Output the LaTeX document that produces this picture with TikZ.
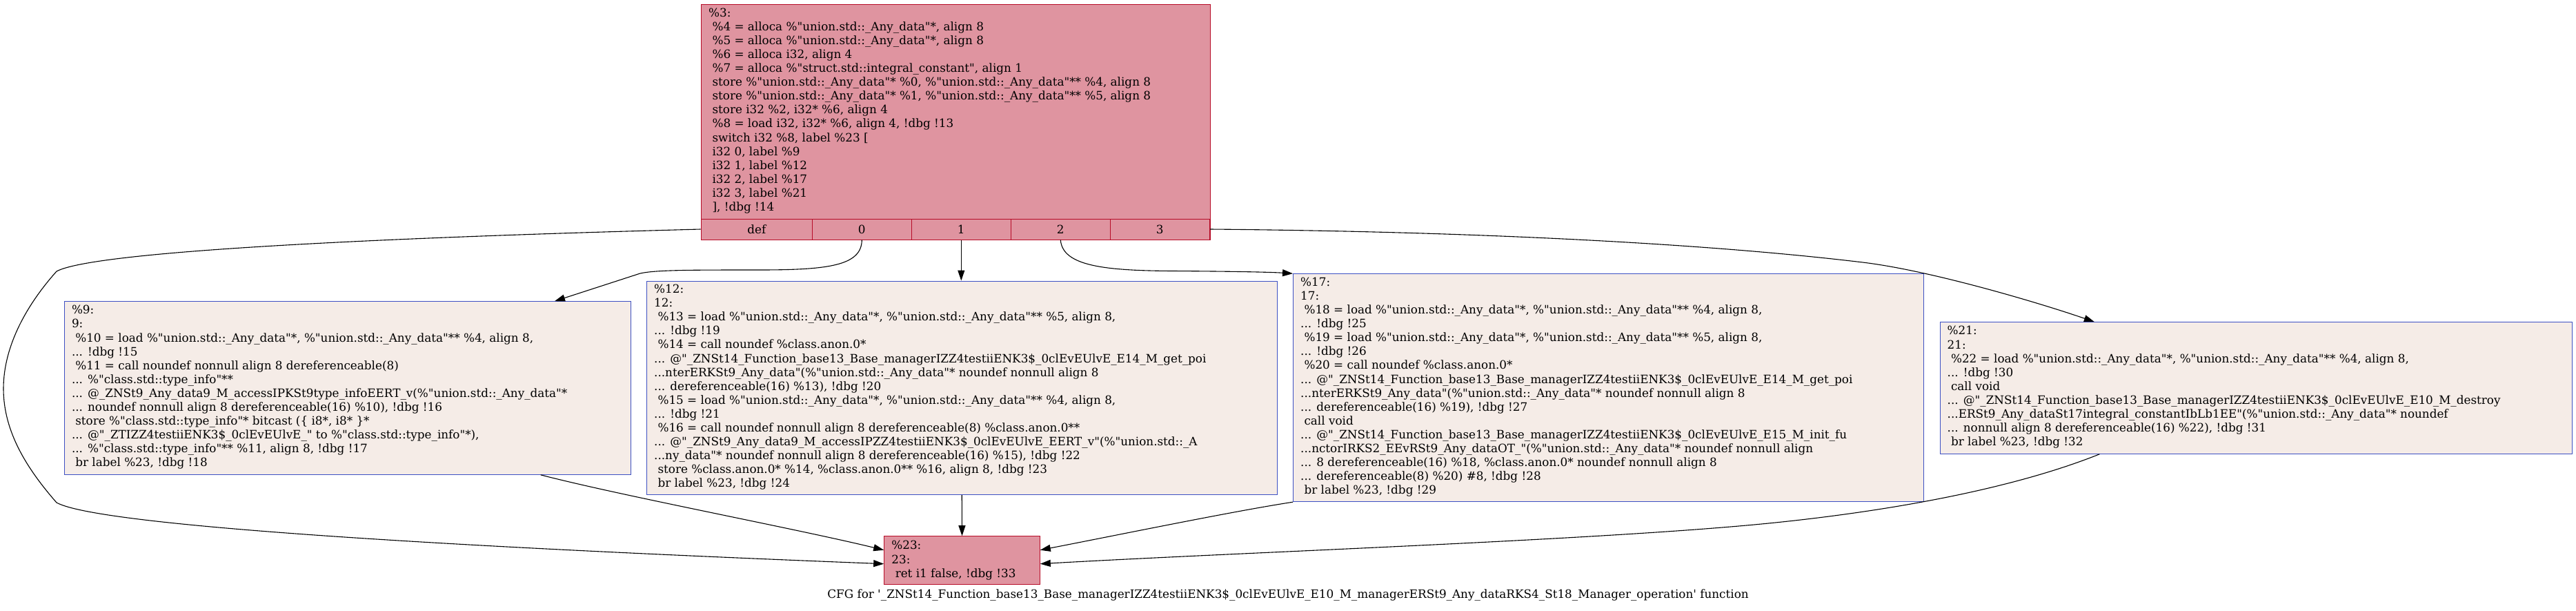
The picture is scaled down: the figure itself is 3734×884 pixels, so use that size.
\documentclass[tikz,border=0pt]{standalone}
\usepackage{fontspec}
\setmainfont{DejaVu Serif}[Ligatures=TeXOff]
\usetikzlibrary{arrows.meta}
\definecolor{redfill}{RGB}{223,148,160}
\definecolor{redline}{RGB}{183,13,40}
\definecolor{bluefill}{RGB}{245,236,231}
\definecolor{blueline}{RGB}{61,80,195}
\newcommand\lsp{\hspace*{0.318em}}
\tikzset{
 blk/.style={draw, line width=1pt, inner sep=0pt},
 hot/.style={blk, draw=redline, fill=redfill},
 cold/.style={blk, draw=blueline, fill=bluefill},
 txt/.style={inner sep=0pt, anchor=west, align=left, font=\fontsize{16.8}{20.1}\selectfont},
 cell/.style={draw=redline, line width=1pt, inner sep=0pt, minimum height=30pt, font=\fontsize{16.8}{20.1}\selectfont},
 edge/.style={line width=1.1pt, -{Triangle[length=15pt,width=10pt]}},
}
\begin{document}
\begin{tikzpicture}[x=1pt,y=-1pt]
\useasboundingbox (0,0) rectangle (3734,884);
\fill[white] (0,0) rectangle (3734,884);

% block %3
\node[hot, minimum width=738pt, minimum height=341pt] (n3) at (1385,176.5) {};
\node[cell, minimum width=161.6pt] (cdef) at (1096.8,332) {def};
\node[cell, minimum width=143.4pt] (c0) at (1249.3,332) {0};
\node[cell, minimum width=144.6pt] (c1) at (1393.3,332) {1};
\node[cell, minimum width=143.4pt] (c2) at (1537.3,332) {2};
\node[cell, minimum width=144.6pt] (c3) at (1681.3,332) {3};
\node[txt] (t3) at (1027,160.5) {\%3:\\
\lsp\%4 = alloca \%"union.std::\_Any\_data"*, align 8\\
\lsp\%5 = alloca \%"union.std::\_Any\_data"*, align 8\\
\lsp\%6 = alloca i32, align 4\\
\lsp\%7 = alloca \%"struct.std::integral\_constant", align 1\\
\lsp store \%"union.std::\_Any\_data"* \%0, \%"union.std::\_Any\_data"** \%4, align 8\\
\lsp store \%"union.std::\_Any\_data"* \%1, \%"union.std::\_Any\_data"** \%5, align 8\\
\lsp store i32 \%2, i32* \%6, align 4\\
\lsp\%8 = load i32, i32* \%6, align 4, !dbg !13\\
\lsp switch i32 \%8, label \%23 [\\
\lsp i32 0, label \%9\\
\lsp i32 1, label \%12\\
\lsp i32 2, label \%17\\
\lsp i32 3, label \%21\\
\lsp], !dbg !14};

% block %9
\node[cold, minimum width=820.7pt, minimum height=250.6pt] (n9) at (503.65,562) {};
\node[txt] (t9) at ([xshift=11pt,yshift=1pt]n9.west) {\%9:\\
9:\\
\lsp\%10 = load \%"union.std::\_Any\_data"*, \%"union.std::\_Any\_data"** \%4, align 8,\\
... !dbg !15\\
\lsp\%11 = call noundef nonnull align 8 dereferenceable(8)\\
... \%"class.std::type\_info"**\\
... @\_ZNSt9\_Any\_data9\_M\_accessIPKSt9type\_infoEERT\_v(\%"union.std::\_Any\_data"*\\
... noundef nonnull align 8 dereferenceable(16) \%10), !dbg !16\\
\lsp store \%"class.std::type\_info"* bitcast (\{ i8*, i8* \}*\\
... @"\_ZTIZZ4testiiENK3\$\_0clEvEUlvE\_" to \%"class.std::type\_info"*),\\
... \%"class.std::type\_info"** \%11, align 8, !dbg !17\\
\lsp br label \%23, !dbg !18};

% block %12
\node[cold, minimum width=913.5pt, minimum height=309.7pt] (n12) at (1394.25,561.85) {};
\node[txt] (t12) at ([xshift=11pt,yshift=1pt]n12.west) {\%12:\\
12:\\
\lsp\%13 = load \%"union.std::\_Any\_data"*, \%"union.std::\_Any\_data"** \%5, align 8,\\
... !dbg !19\\
\lsp\%14 = call noundef \%class.anon.0*\\
... @"\_ZNSt14\_Function\_base13\_Base\_managerIZZ4testiiENK3\$\_0clEvEUlvE\_E14\_M\_get\_poi\\
...nterERKSt9\_Any\_data"(\%"union.std::\_Any\_data"* noundef nonnull align 8\\
... dereferenceable(16) \%13), !dbg !20\\
\lsp\%15 = load \%"union.std::\_Any\_data"*, \%"union.std::\_Any\_data"** \%4, align 8,\\
... !dbg !21\\
\lsp\%16 = call noundef nonnull align 8 dereferenceable(8) \%class.anon.0**\\
... @"\_ZNSt9\_Any\_data9\_M\_accessIPZZ4testiiENK3\$\_0clEvEUlvE\_EERT\_v"(\%"union.std::\_A\\
...ny\_data"* noundef nonnull align 8 dereferenceable(16) \%15), !dbg !22\\
\lsp store \%class.anon.0* \%14, \%class.anon.0** \%16, align 8, !dbg !23\\
\lsp br label \%23, !dbg !24};

% block %17
\node[cold, minimum width=913.5pt, minimum height=330pt] (n17) at (2331.25,561.7) {};
\node[txt] (t17) at ([xshift=11pt,yshift=1pt]n17.west) {\%17:\\
17:\\
\lsp\%18 = load \%"union.std::\_Any\_data"*, \%"union.std::\_Any\_data"** \%4, align 8,\\
... !dbg !25\\
\lsp\%19 = load \%"union.std::\_Any\_data"*, \%"union.std::\_Any\_data"** \%5, align 8,\\
... !dbg !26\\
\lsp\%20 = call noundef \%class.anon.0*\\
... @"\_ZNSt14\_Function\_base13\_Base\_managerIZZ4testiiENK3\$\_0clEvEUlvE\_E14\_M\_get\_poi\\
...nterERKSt9\_Any\_data"(\%"union.std::\_Any\_data"* noundef nonnull align 8\\
... dereferenceable(16) \%19), !dbg !27\\
\lsp call void\\
... @"\_ZNSt14\_Function\_base13\_Base\_managerIZZ4testiiENK3\$\_0clEvEUlvE\_E15\_M\_init\_fu\\
...nctorIRKS2\_EEvRSt9\_Any\_dataOT\_"(\%"union.std::\_Any\_data"* noundef nonnull align\\
... 8 dereferenceable(16) \%18, \%class.anon.0* noundef nonnull align 8\\
... dereferenceable(8) \%20) \#8, !dbg !28\\
\lsp br label \%23, !dbg !29};

% block %21
\node[cold, minimum width=916pt, minimum height=190.6pt] (n21) at (3270,562) {};
\node[txt] (t21) at ([xshift=11pt,yshift=1pt]n21.west) {\%21:\\
21:\\
\lsp\%22 = load \%"union.std::\_Any\_data"*, \%"union.std::\_Any\_data"** \%4, align 8,\\
... !dbg !30\\
\lsp call void\\
... @"\_ZNSt14\_Function\_base13\_Base\_managerIZZ4testiiENK3\$\_0clEvEUlvE\_E10\_M\_destroy\\
...ERSt9\_Any\_dataSt17integral\_constantIbLb1EE"(\%"union.std::\_Any\_data"* noundef\\
... nonnull align 8 dereferenceable(16) \%22), !dbg !31\\
\lsp br label \%23, !dbg !32};

% block %23
\node[hot, minimum width=225.6pt, minimum height=70pt] (n23) at (1394.5,811.7) {};
\node[txt] (t23) at ([xshift=11pt]n23.west) {\%23:\\
23:\\
\lsp ret i1 false, !dbg !33};

% caption
\node[txt, anchor=center] (cap) at (1867,862) {CFG for '\_ZNSt14\_Function\_base13\_Base\_managerIZZ4testiiENK3\$\_0clEvEUlvE\_E10\_M\_managerERSt9\_Any\_dataRKS4\_St18\_Manager\_operation' function};

% edges
\draw[edge] (cdef.west) .. controls (600,343) and (140,362) .. (82,393)
  .. controls (40,440) and (5,500) .. (5,563)
  .. controls (5,626) and (40,680) .. (82,728)
  .. controls (140,760) and (600,790) .. ([yshift=-5pt]n23.west);
\draw[edge] (c0.south) .. controls (1249,385) and (1200,391) .. (1100,391)
  .. controls (1000,391) and (950,391) .. (928,396) -- ([xshift=300.35pt]n9.north);
\draw[edge] (c1.south) -- (c1.south |- n12.north);
\draw[edge] (c2.south) .. controls (1540,385) and (1600,392) .. (1700,392.5)
  .. controls (1780,393) and (1840,394) .. (n17.north west);
\draw[edge] (c3.east) .. controls (2100,335) and (2450,350) .. (2700,380)
  .. controls (2800,392) and (2960,440) .. ([xshift=224.4pt]n21.north west);
\draw[edge] ([xshift=280pt]n9.south) .. controls (900,718) and (1150,765) .. ([yshift=15pt]n23.west);
\draw[edge] (n12.south) -- (n23.north);
\draw[edge] (n17.south west) .. controls (1790,740) and (1620,775) .. ([yshift=15pt]n23.east);
\draw[edge] ([xshift=-226.7pt]n21.south) .. controls (2900,715) and (2700,745) .. (2550,759.3)
  .. controls (2300,783) and (1800,800) .. ([yshift=-5pt]n23.east);
\end{tikzpicture}
\end{document}
